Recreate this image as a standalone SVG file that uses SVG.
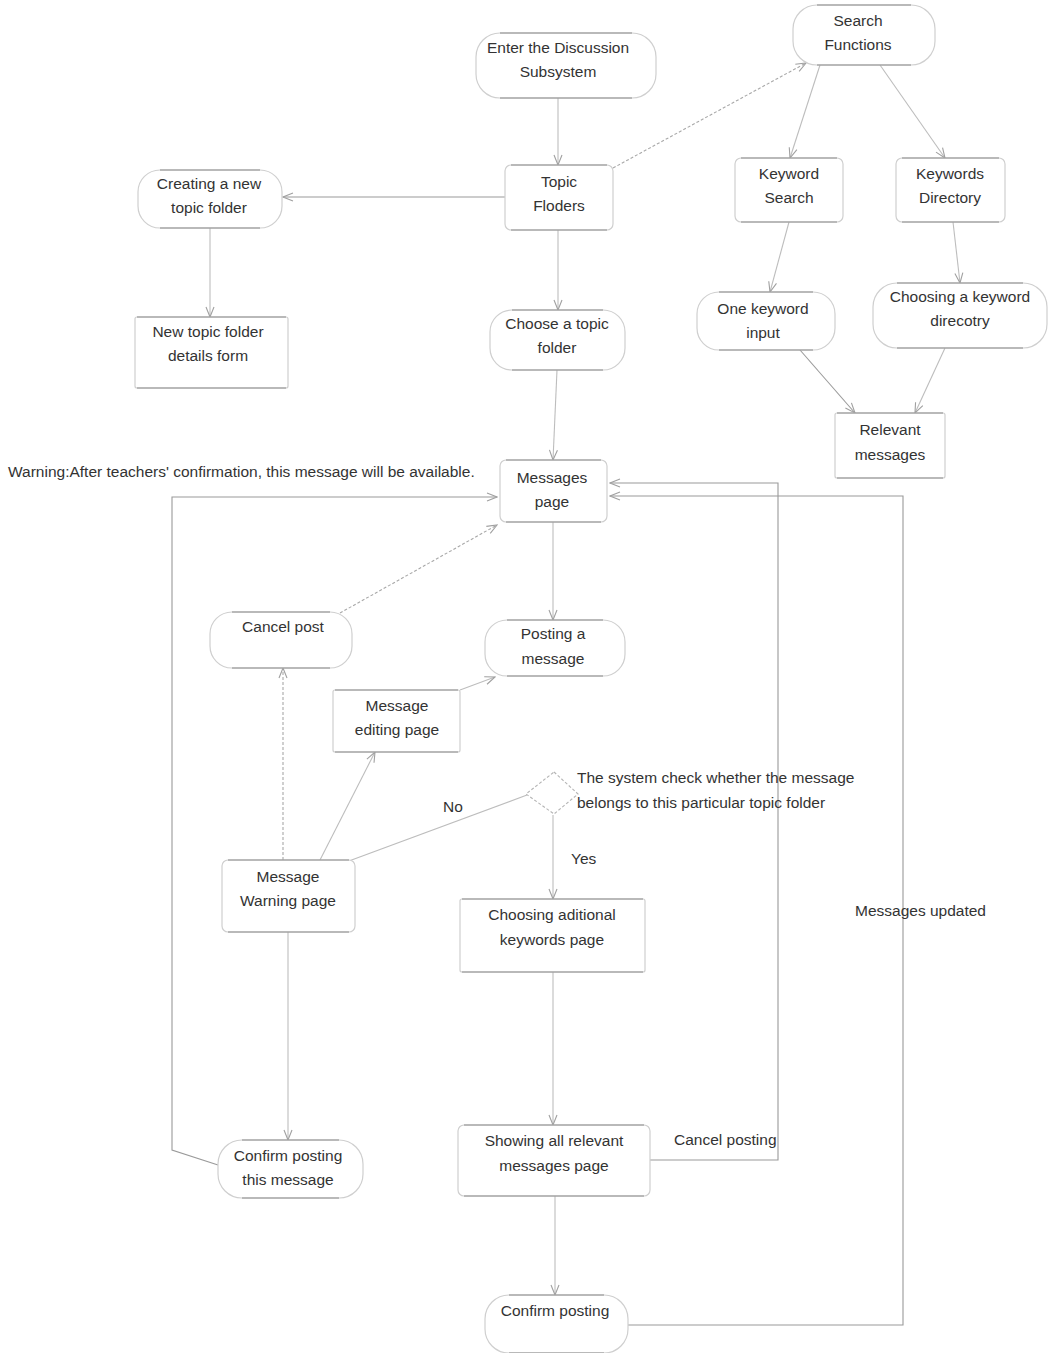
<svg xmlns="http://www.w3.org/2000/svg" width="1048" height="1353" viewBox="0 0 1048 1353">
  <style>
    .bg { fill: #ffffff; }
    .shape { fill: #ffffff; stroke: #cfcfcf; stroke-width: 1.2; }
    .rim { stroke: #8c8c8c; stroke-width: 1.2; fill: none; }
    .lbl { font-family: "Liberation Sans", Arial, sans-serif; font-size: 15.5px; fill: #333333; text-anchor: middle; }
    .note { font-family: "Liberation Sans", Arial, sans-serif; font-size: 15.5px; fill: #333333; }
    .edge { fill: none; stroke: #bdbdbd; stroke-width: 1.1; }
    .dash { stroke-dasharray: 3 2; stroke: #a8a8a8; }
    .dark { stroke: #9a9a9a; }
  </style>
  <defs>
    <marker id="arr" markerWidth="12" markerHeight="10" refX="11" refY="5" orient="auto" markerUnits="userSpaceOnUse">
      <path d="M1,1 L11,5 L1,9" fill="none" stroke="#a0a0a0" stroke-width="1.1"/>
    </marker>
  </defs>
  <rect class="bg" x="0" y="0" width="1048" height="1353"/>

  <!-- connectors -->
  <g id="connectors">
    <path class="edge" d="M558,98 V165" marker-end="url(#arr)"/>
    <path class="edge dark" d="M505,197 H283" marker-end="url(#arr)"/>
    <path class="edge dash" d="M613,168 L806,63" marker-end="url(#arr)"/>
    <path class="edge" d="M820,65 L790,158" marker-end="url(#arr)"/>
    <path class="edge" d="M880,65 L945,158" marker-end="url(#arr)"/>
    <path class="edge" d="M210,228 V317" marker-end="url(#arr)"/>
    <path class="edge" d="M558,230 V310" marker-end="url(#arr)"/>
    <path class="edge" d="M789,222 L770,292" marker-end="url(#arr)"/>
    <path class="edge" d="M953,222 L960,283" marker-end="url(#arr)"/>
    <path class="edge dark" d="M800,350 L855,413" marker-end="url(#arr)"/>
    <path class="edge" d="M945,348 L915,413" marker-end="url(#arr)"/>
    <path class="edge" d="M557,370 L553,460" marker-end="url(#arr)"/>
    <path class="edge" d="M553,522 V620" marker-end="url(#arr)"/>
    <path class="edge dash" d="M340,613 L497,525" marker-end="url(#arr)"/>
    <path class="edge" d="M460,690 L495,677" marker-end="url(#arr)"/>
    <path class="edge" d="M527,795 L330,868" marker-end="url(#arr)"/>
    <path class="edge" d="M553,815 V899" marker-end="url(#arr)"/>
    <path class="edge" d="M320,860 L375,752" marker-end="url(#arr)"/>
    <path class="edge dash" d="M283,860 V668" marker-end="url(#arr)"/>
    <path class="edge" d="M288,932 V1140" marker-end="url(#arr)"/>
    <path class="edge dark" d="M218,1165 L172,1150 V497 H497" marker-end="url(#arr)"/>
    <path class="edge" d="M553,972 V1125" marker-end="url(#arr)"/>
    <path class="edge" d="M555,1196 V1295" marker-end="url(#arr)"/>
    <path class="edge dark" d="M650,1160 H778 V483 H610" marker-end="url(#arr)"/>
    <path class="edge dark" d="M628,1325 H903 V496 H610" marker-end="url(#arr)"/>
  </g>

  <!-- nodes -->
  <g id="enter">
    <rect class="shape" x="476" y="33" width="180" height="65" rx="24"/>
    <path class="rim" d="M500,33 H632 M500,98 H632"/>
    <text class="lbl" x="558" y="53">Enter the Discussion</text>
    <text class="lbl" x="558" y="77">Subsystem</text>
  </g>
  <g id="search">
    <rect class="shape" x="793" y="5" width="142" height="60" rx="24"/>
    <path class="rim" d="M817,5 H911 M817,65 H911"/>
    <text class="lbl" x="858" y="26">Search</text>
    <text class="lbl" x="858" y="50">Functions</text>
  </g>
  <g id="topic">
    <rect class="shape" x="505" y="165" width="108" height="65" rx="6"/>
    <path class="rim" d="M511,165 H607 M511,230 H607"/>
    <text class="lbl" x="559" y="187">Topic</text>
    <text class="lbl" x="559" y="211">Floders</text>
  </g>
  <g id="creating">
    <rect class="shape" x="138" y="170" width="144" height="58" rx="22"/>
    <path class="rim" d="M160,170 H260 M160,228 H260"/>
    <text class="lbl" x="209" y="189">Creating a new</text>
    <text class="lbl" x="209" y="213">topic folder</text>
  </g>
  <g id="newform">
    <rect class="shape" x="135" y="317" width="153" height="71" rx="2"/>
    <path class="rim" d="M137,317 H286 M137,388 H286"/>
    <text class="lbl" x="208" y="337">New topic folder</text>
    <text class="lbl" x="208" y="361">details form</text>
  </g>
  <g id="kwsearch">
    <rect class="shape" x="735" y="158" width="108" height="64" rx="6"/>
    <path class="rim" d="M741,158 H837 M741,222 H837"/>
    <text class="lbl" x="789" y="179">Keyword</text>
    <text class="lbl" x="789" y="203">Search</text>
  </g>
  <g id="kwdir">
    <rect class="shape" x="896" y="158" width="109" height="64" rx="6"/>
    <path class="rim" d="M902,158 H999 M902,222 H999"/>
    <text class="lbl" x="950" y="179">Keywords</text>
    <text class="lbl" x="950" y="203">Directory</text>
  </g>
  <g id="choose">
    <rect class="shape" x="490" y="310" width="135" height="60" rx="22"/>
    <path class="rim" d="M512,310 H603 M512,370 H603"/>
    <text class="lbl" x="557" y="329">Choose a topic</text>
    <text class="lbl" x="557" y="353">folder</text>
  </g>
  <g id="onekw">
    <rect class="shape" x="697" y="292" width="138" height="58" rx="22"/>
    <path class="rim" d="M719,292 H813 M719,350 H813"/>
    <text class="lbl" x="763" y="314">One keyword</text>
    <text class="lbl" x="763" y="338">input</text>
  </g>
  <g id="kwdirchoose">
    <rect class="shape" x="873" y="283" width="174" height="65" rx="24"/>
    <path class="rim" d="M897,283 H1023 M897,348 H1023"/>
    <text class="lbl" x="960" y="302">Choosing a keyword</text>
    <text class="lbl" x="960" y="326">direcotry</text>
  </g>
  <g id="relevant">
    <rect class="shape" x="835" y="413" width="110" height="65" rx="2"/>
    <path class="rim" d="M837,413 H943 M837,478 H943"/>
    <text class="lbl" x="890" y="435">Relevant</text>
    <text class="lbl" x="890" y="460">messages</text>
  </g>
  <g id="warning-note">
    <text class="note" x="8" y="477">Warning:After teachers' confirmation, this message will be available.</text>
  </g>
  <g id="messages">
    <rect class="shape" x="500" y="460" width="107" height="62" rx="6"/>
    <path class="rim" d="M506,460 H601 M506,522 H601"/>
    <text class="lbl" x="552" y="483">Messages</text>
    <text class="lbl" x="552" y="507">page</text>
  </g>
  <g id="cancelpost">
    <rect class="shape" x="210" y="612" width="142" height="56" rx="22"/>
    <path class="rim" d="M232,612 H330 M232,668 H330"/>
    <text class="lbl" x="283" y="632">Cancel post</text>
  </g>
  <g id="posting">
    <rect class="shape" x="485" y="620" width="140" height="56" rx="22"/>
    <path class="rim" d="M507,620 H603 M507,676 H603"/>
    <text class="lbl" x="553" y="639">Posting a</text>
    <text class="lbl" x="553" y="664">message</text>
  </g>
  <g id="editing">
    <rect class="shape" x="333" y="690" width="127" height="62" rx="2"/>
    <path class="rim" d="M335,690 H458 M335,752 H458"/>
    <text class="lbl" x="397" y="711">Message</text>
    <text class="lbl" x="397" y="735">editing page</text>
  </g>
  <g id="check">
    <polygon points="554,772 578,794 554,814 526,794" fill="#ffffff" stroke="#b5b5b5" stroke-width="1.1" stroke-dasharray="3 2"/>
    <text class="note" x="577" y="783">The system check whether the message</text>
    <text class="note" x="577" y="808">belongs to this particular topic folder</text>
  </g>
  <g id="edge-labels">
    <text class="note" x="443" y="812">No</text>
    <text class="note" x="571" y="864">Yes</text>
    <text class="note" x="855" y="916">Messages updated</text>
    <text class="note" x="674" y="1145">Cancel posting</text>
  </g>
  <g id="warnpage">
    <rect class="shape" x="222" y="860" width="133" height="72" rx="6"/>
    <path class="rim" d="M228,860 H349 M228,932 H349"/>
    <text class="lbl" x="288" y="882">Message</text>
    <text class="lbl" x="288" y="906">Warning page</text>
  </g>
  <g id="additional">
    <rect class="shape" x="460" y="899" width="185" height="73" rx="2"/>
    <path class="rim" d="M462,899 H643 M462,972 H643"/>
    <text class="lbl" x="552" y="920">Choosing aditional</text>
    <text class="lbl" x="552" y="945">keywords page</text>
  </g>
  <g id="confirmthis">
    <rect class="shape" x="218" y="1140" width="145" height="58" rx="24"/>
    <path class="rim" d="M242,1140 H339 M242,1198 H339"/>
    <text class="lbl" x="288" y="1161">Confirm posting</text>
    <text class="lbl" x="288" y="1185">this message</text>
  </g>
  <g id="showing">
    <rect class="shape" x="458" y="1125" width="192" height="71" rx="6"/>
    <path class="rim" d="M464,1125 H644 M464,1196 H644"/>
    <text class="lbl" x="554" y="1146">Showing all relevant</text>
    <text class="lbl" x="554" y="1171">messages page</text>
  </g>
  <g id="confirm">
    <rect class="shape" x="485" y="1295" width="143" height="58" rx="24"/>
    <path class="rim" d="M509,1295 H604 M509,1353 H604"/>
    <text class="lbl" x="555" y="1316">Confirm posting</text>
  </g>
</svg>
